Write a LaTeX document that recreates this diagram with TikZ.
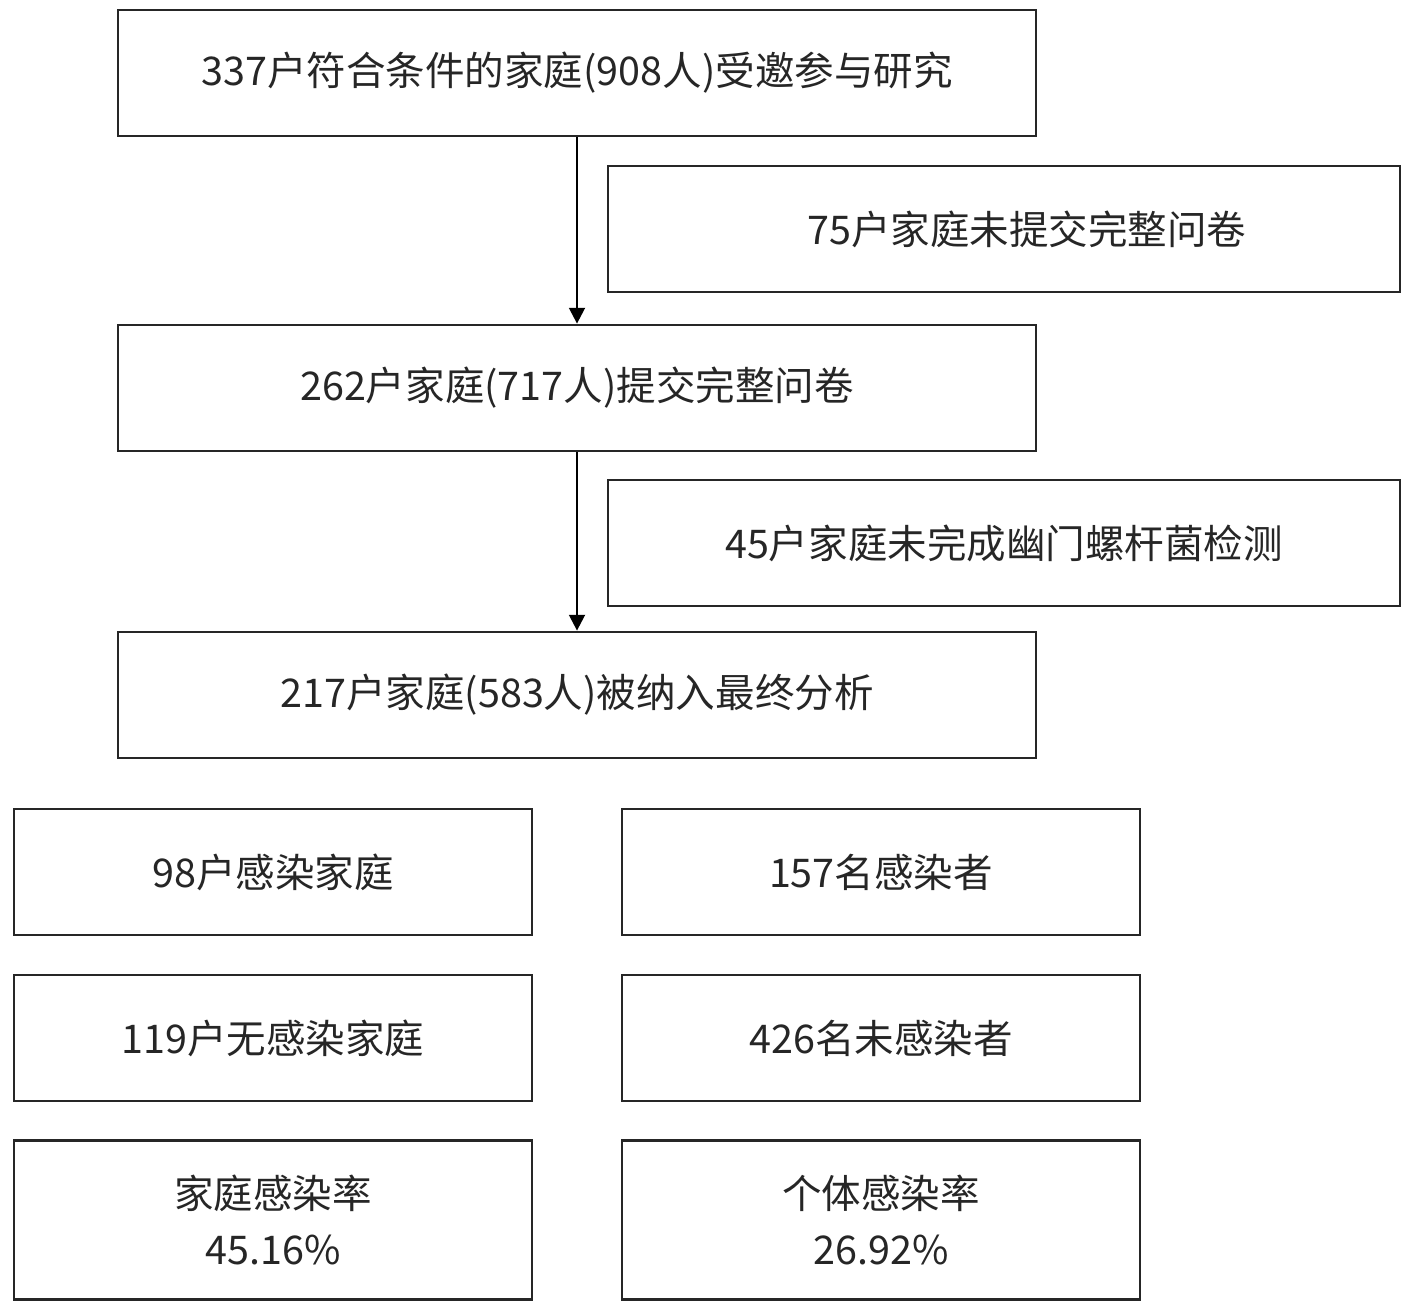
\documentclass[tikz,border=0pt]{standalone}
\usepackage{fontspec}
\setmainfont{Noto Sans CJK SC}
\usetikzlibrary{positioning,arrows.meta}
\tikzstyle{flowBox} = [draw=black!85, line width=1.6pt, inner sep=0pt, align=center, font=\fontsize{22.5}{32}\selectfont, text=black!85]
\tikzstyle{wideBox} = [flowBox, minimum width=18.36cm, minimum height=2.52cm]
\tikzstyle{sideBox} = [flowBox, minimum width=15.84cm, minimum height=2.52cm]
\tikzstyle{smallBox} = [flowBox, minimum width=10.36cm, minimum height=2.52cm]
\tikzstyle{flowArrow} = [line width=1.4pt, -{Triangle[length=9pt,width=9pt]}]

\begin{document}
\begin{tikzpicture}[x = .02cm, y = -.02cm]
  \useasboundingbox (0,0) rectangle (1417,1308);
  \node [wideBox] (invited) at (577,73) {337户符合条件的家庭(908人)受邀参与研究};
  \node [sideBox] (incomplete) at (1004,229) {\hspace{26pt}75户家庭未提交完整问卷};
  \node [wideBox] (submitted) at (577,388) {262户家庭(717人)提交完整问卷};
  \node [sideBox] (untested) at (1004,543) {45户家庭未完成幽门螺杆菌检测};
  \node [wideBox] (analysed) at (577,695) {217户家庭(583人)被纳入最终分析};

  \node [smallBox] (infFamily) at (273,872) {98户感染家庭};
  \node [smallBox] (freeFamily) at (273,1038) {119户无感染家庭};
  \node [smallBox, minimum height=3.18cm] (familyRate) at (273,1220) {家庭感染率\\45.16\%};
  \node [smallBox] (infPerson) at (881,872) {157名感染者};
  \node [smallBox] (freePerson) at (881,1038) {426名未感染者};
  \node [smallBox, minimum height=3.18cm] (personRate) at (881,1220) {个体感染率\\26.92\%};

  \draw [flowArrow] (invited) -- (submitted);
  \draw [flowArrow] (submitted) -- (analysed);
\end{tikzpicture}
\end{document}
